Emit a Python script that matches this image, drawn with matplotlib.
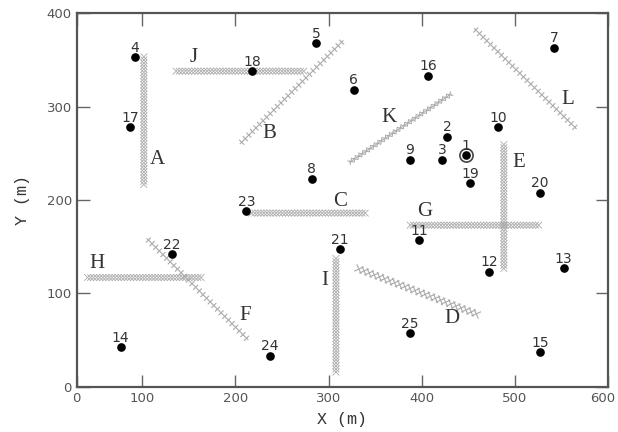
import numpy as np
import matplotlib
matplotlib.use("Agg")
import matplotlib.pyplot as plt
import matplotlib.patheffects as pe
import matplotlib.transforms as mtransforms

# ---- data ----
point_ids = [str(i) for i in range(1, 26)]
point_x = [447, 427, 422, 92, 287, 327, 542, 282, 387, 482, 397, 472, 552,
           77, 527, 407, 87, 218, 452, 527, 312, 132, 212, 237, 387]
point_y = [248, 268, 243, 353, 368, 318, 363, 223, 243, 278, 157, 123, 127,
           42, 37, 333, 278, 338, 218, 208, 147, 142, 188, 33, 57]

wall_names = ["A", "B", "C", "D", "E", "F", "G", "H", "I", "J", "K", "L"]
wall_x0 = [102, 205, 216, 330, 488, 105, 386, 40, 308, 135, 322, 456]
wall_y0 = [215, 260, 186, 127, 125, 159, 173, 117, 14, 338, 240, 384]
wall_x1 = [102, 316, 341, 461, 488, 214, 527, 165, 308, 275, 432, 566]
wall_y1 = [355, 371, 186, 77, 261, 50, 173, 117, 139, 338, 314, 276]
wall_type = ["dense", "tick", "dense", "cross_big", "dense", "tick", "dense",
             "dense", "dense", "dense", "cross", "tick"]
wall_label_x = [116.5, 236.5, 312.4, 432.1, 503.6, 210.5, 403.5, 51.5, 296.3, 155.8, 365.2, 556.5]
wall_label_y = [243.6, 270.8, 198.2, 73.3, 240.0, 76.8, 187.5, 131.5, 114.3, 353.0, 288.6, 307.2]

x_ticks = [30, 100, 200, 300, 400, 500, 600]
x_ticklabels = ["0", "100", "200", "300", "400", "500", "600"]
y_ticks = [0, 100, 200, 300, 400]

# ---- figure ----
fig = plt.figure(figsize=(6.18, 4.32), dpi=100)
ax = fig.add_axes([76.7 / 618, (432 - 386.7) / 432, (608.3 - 76.7) / 618, (386.7 - 13.3) / 432])
ax.set_xlim(30, 600)
ax.set_ylim(0, 400)

wall_color = "#aaaaaa"


def cross_effects(spacing, half, lw, color):
    L = half / spacing
    return [pe.TickedStroke(spacing=spacing, angle=a, length=L, linewidth=lw, foreground=color)
            for a in (45, 135, 225, 315)]


for name, x0, y0, x1, y1, t in zip(wall_names, wall_x0, wall_y0, wall_x1, wall_y1, wall_type):
    if t == "dense":
        effs = cross_effects(2.2, 3.4, 0.6, wall_color)
        lw, show_line = 0.5, False
    elif t == "tick":
        effs = [pe.TickedStroke(spacing=3.6, angle=a, length=0.7, linewidth=0.8, foreground=wall_color)
                for a in (90, -90)] + [pe.Normal()]
        lw, show_line = 0.8, True
    elif t == "cross":
        effs = cross_effects(3.2, 2.6, 0.7, wall_color) + [pe.Normal()]
        lw, show_line = 0.7, True
    else:  # cross_big
        effs = cross_effects(3.8, 3.8, 0.8, wall_color)
        lw, show_line = 0.5, False
    ax.plot([x0, x1], [y0, y1], color=wall_color if show_line else "none",
            lw=lw, path_effects=effs, solid_capstyle="butt", zorder=2)

for name, lx, ly in zip(wall_names, wall_label_x, wall_label_y):
    ax.text(lx, ly, name, fontsize=15, family="Liberation Serif", color="#333333",
            ha="center", va="center", zorder=4)

ax.plot(point_x, point_y, "o", color="black", markersize=5.2, zorder=5, linestyle="none")
# ring around point 1
ax.plot(point_x[0], point_y[0], "o", markerfacecolor="none", markeredgecolor="#444444",
        markersize=9.5, markeredgewidth=1.2, zorder=5)

for pid, px, py in zip(point_ids, point_x, point_y):
    ax.annotate(pid, (px, py), xytext=(0, 4), textcoords="offset points",
                ha="center", va="baseline", fontsize=10, color="#333333", zorder=6)

ax.set_xticks(x_ticks)
ax.set_xticklabels(x_ticklabels)
ax.set_yticks(y_ticks)
ax.tick_params(direction="in", length=9, width=1, color="#666666", labelcolor="#555555",
               labelsize=9.5, pad=3.5, top=True, right=True)
# nudge the last x tick label so it stays inside the canvas
last = ax.get_xticklabels()[-1]
last.set_transform(last.get_transform() +
                   mtransforms.ScaledTranslation(-4 / 72, 0, fig.dpi_scale_trans))
for s in ax.spines.values():
    s.set_color("#555555")
    s.set_linewidth(1.6)

ax.set_xlabel("X (m)", family="Liberation Mono", fontsize=12, color="#333333", labelpad=5)
ax.set_ylabel("Y (m)", family="Liberation Mono", fontsize=12, color="#333333", labelpad=12)

fig.savefig("out.png", dpi=100)
